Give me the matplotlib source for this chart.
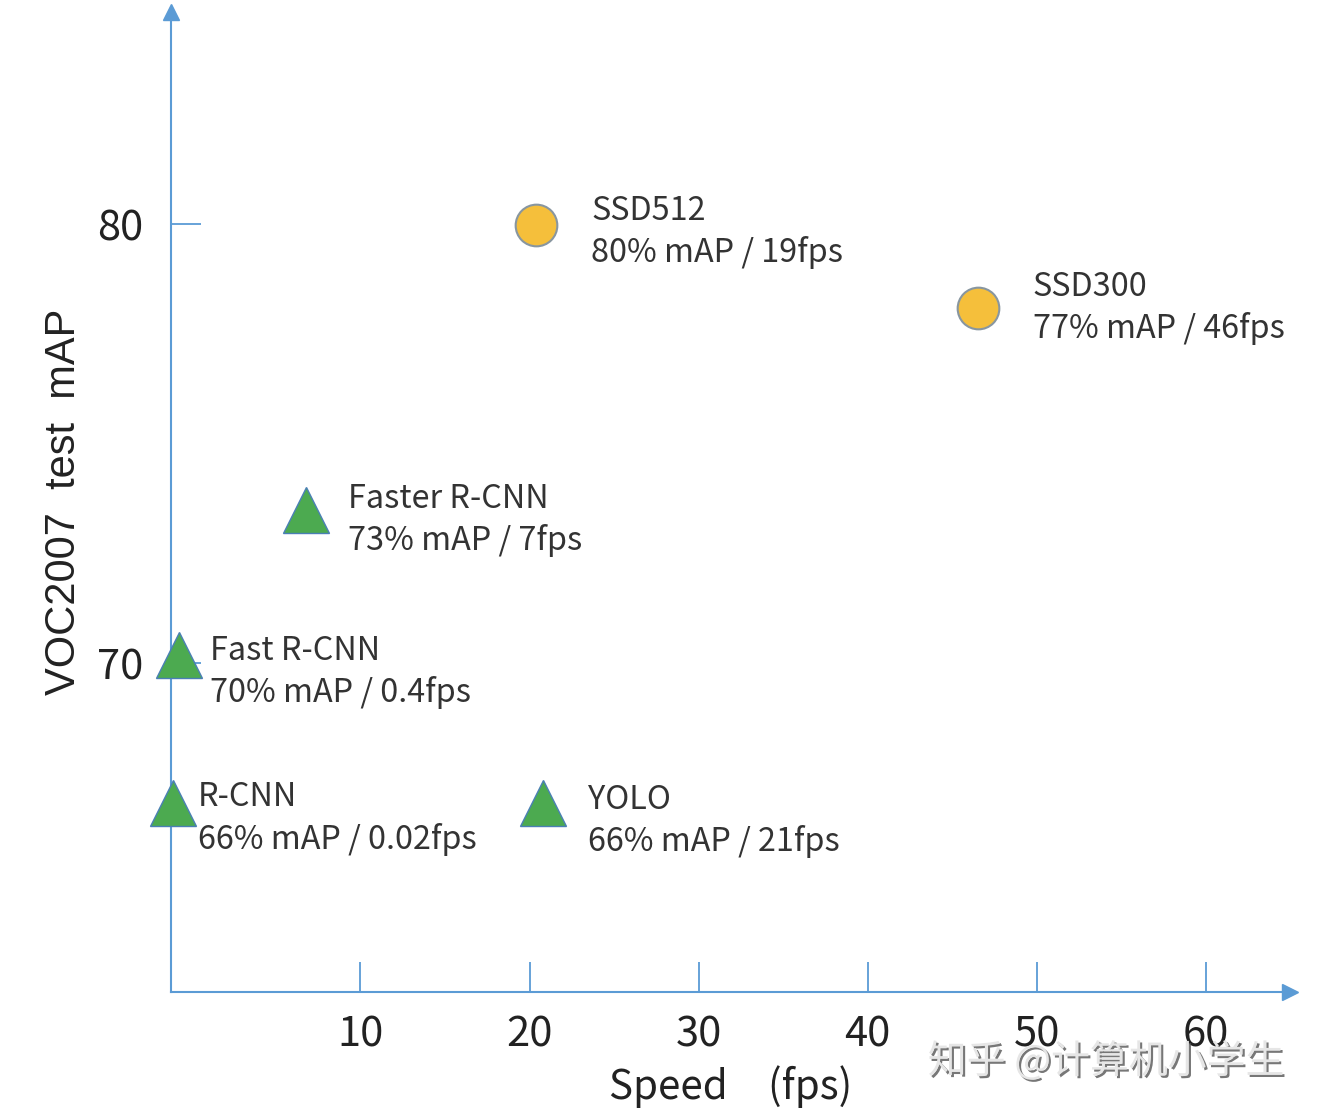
import matplotlib
matplotlib.use("Agg")
import matplotlib.pyplot as plt
import matplotlib.patheffects as pe

# detectors (marker positions, in axis units)
names = ["SSD512", "SSD300", "Faster R-CNN", "Fast R-CNN", "R-CNN", "YOLO"]
stats = ["80% mAP / 19fps", "77% mAP / 46fps", "73% mAP / 7fps",
         "70% mAP / 0.4fps", "66% mAP / 0.02fps", "66% mAP / 21fps"]
speed = [20.4, 46.5, 6.8, -0.7, -1.1, 20.8]
m_ap = [79.98, 78.09, 73.49, 70.18, 66.81, 66.81]
kind = ["ssd", "ssd", "rcnn", "rcnn", "rcnn", "rcnn"]

x_ticks = [10, 20, 30, 40, 50, 60]
y_ticks = [70, 80]

# label offsets from marker (pixels): text x, first line y, second line y
label_offsets = [(55, -14, 28), (55, -21, 21), (42, -11, 31),
                 (31, -4, 37), (25, -6, 36), (45, -3, 38)]

axis_blue = "#5B9BD5"
cjk = ["Noto Sans CJK SC", "DejaVu Sans"]

fig = plt.figure(figsize=(13.2, 11.18), dpi=100)
ax = fig.add_axes([171 / 1320, 126 / 1118, 1119 / 1320, 980 / 1118])
ax.set_xlim(-1.2, 64.97)
ax.set_ylim(62.51, 84.83)

for s in ["top", "right"]:
    ax.spines[s].set_visible(False)
for s in ["left", "bottom"]:
    ax.spines[s].set_color(axis_blue)
    ax.spines[s].set_linewidth(1.5)

# arrow heads at the ends of the axes
ax.plot(1, 0, ">", color=axis_blue, ms=11, transform=ax.transAxes, clip_on=False)
ax.plot(0, 1, "^", color=axis_blue, ms=11, transform=ax.transAxes, clip_on=False)

ax.set_xticks(x_ticks)
ax.set_yticks(y_ticks)
ax.tick_params(direction="in", length=21.6, width=1.3, color=axis_blue,
               labelsize=30, labelcolor="#222222")
ax.tick_params(axis="x", pad=16)
ax.tick_params(axis="y", pad=20)
for lab in ax.get_xticklabels() + ax.get_yticklabels():
    lab.set_family(cjk)

ax.set_xlabel("Speed\u2003(fps)", fontsize=29, family=cjk, color="#222222")
ax.xaxis.set_label_coords(0.5, -0.097)
ax.xaxis.label.set_va("center")
ax.set_ylabel("VOC2007  test  mAP", fontsize=30, family="Liberation Sans",
              color="#222222")
ax.yaxis.set_label_coords(-0.096, 0.5)
ax.yaxis.label.set_va("center")

for i in range(len(names)):
    if kind[i] == "ssd":
        ax.plot(speed[i], m_ap[i], "o", ms=30, mfc="#F5BF3B", mec="#8896A0",
                mew=1.5, clip_on=False, zorder=3)
    else:
        ax.plot(speed[i], m_ap[i], "^", ms=33, mfc="#4CAA50", mec="#4A7FB5",
                mew=1.0, clip_on=False, zorder=3)
    dx, dy1, dy2 = label_offsets[i]
    for txt, dy in [(names[i], dy1), (stats[i], dy2)]:
        ax.annotate(txt, (speed[i], m_ap[i]), xytext=(dx * 0.72, -dy * 0.72),
                    textcoords="offset points", ha="left", va="center",
                    fontsize=23.3, family=cjk, color="#333333")

# watermark
fig.text(1106 / 1320, 1 - 1062 / 1118, "知乎 @计算机小学生", fontsize=28,
         family=cjk, color="#e6e6e6", ha="center", va="center",
         path_effects=[pe.withSimplePatchShadow(offset=(1.5, -1.5),
                                                shadow_rgbFace="#555555",
                                                alpha=0.8)])

fig.savefig("out.png", dpi=100)
